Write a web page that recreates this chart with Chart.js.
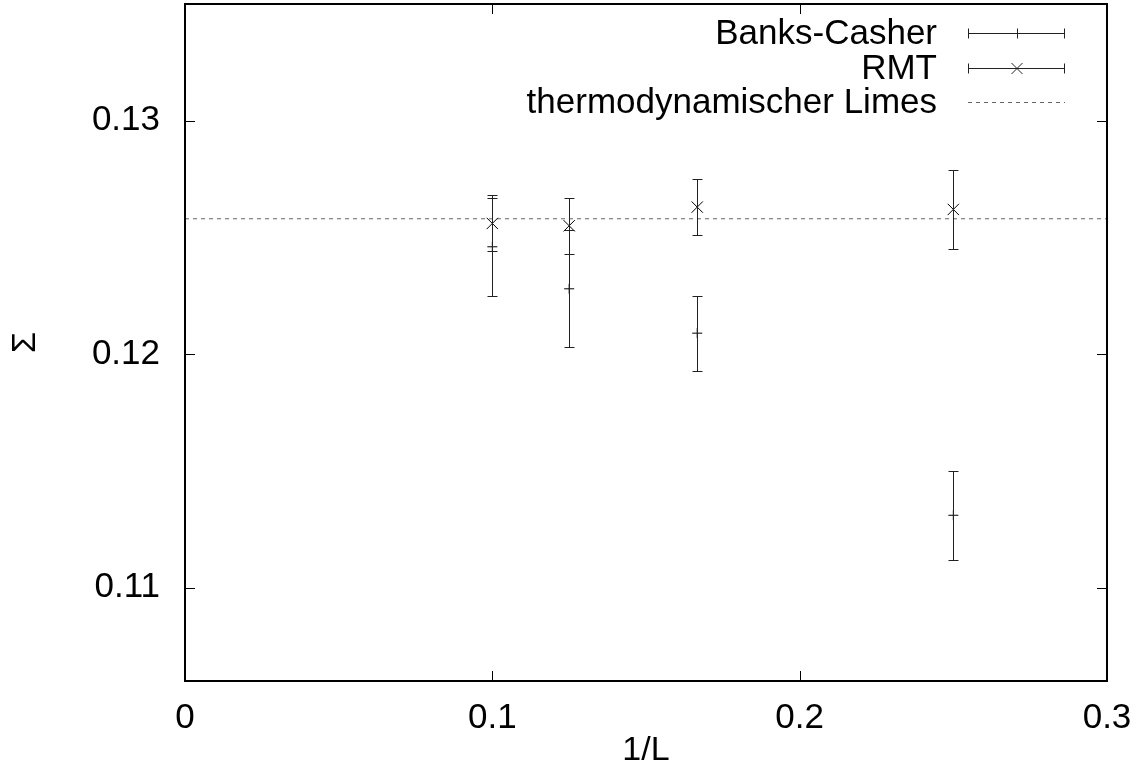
<!DOCTYPE html>
<html>
<head>
<meta charset="utf-8">
<script src="https://cdn.jsdelivr.net/npm/chart.js@4"></script>
<style>
  html, body { margin: 0; padding: 0; background: #fff; }
  canvas { display: block; }
</style>
</head>
<body>
<canvas id="sigma-chart" width="1138" height="771"></canvas>
<script>
// Finite-volume estimates of Sigma against 1/L
const invL = [0.1, 0.125, 1 / 6, 0.25];
const banksCasher = [0.1246, 0.1228, 0.1209, 0.1131];
const banksCasherErr = [0.0021, 0.0025, 0.0016, 0.0019];
const rmt = [0.1256, 0.1255, 0.1263, 0.1262];
const rmtErr = [0.0012, 0.0012, 0.0012, 0.0017];
const thermoLimit = 0.1258;
const thermoRange = [0, 0.3];
const xTicks = [0, 0.1, 0.2, 0.3];
const yTicks = [0.11, 0.12, 0.13];
const seriesLabels = ['Banks-Casher', 'RMT', 'thermodynamischer Limes'];

const FONT = '"Liberation Sans", Arial, Helvetica, sans-serif';

// vertical error bars with end caps
const errorBars = {
    id: 'errorBars',
    afterDatasetsDraw(chart) {
        const { ctx, scales: { x, y } } = chart;
        ctx.save();
        ctx.strokeStyle = '#222';
        ctx.lineWidth = 1;
        chart.data.datasets.forEach(ds => {
            if (!ds.errors) return;
            ds.data.forEach((p, i) => {
                const px = Math.round(x.getPixelForValue(p.x)) + 0.5;
                const top = Math.round(y.getPixelForValue(p.y + ds.errors[i])) + 0.5;
                const bot = Math.round(y.getPixelForValue(p.y - ds.errors[i])) + 0.5;
                ctx.beginPath();
                ctx.moveTo(px, top);
                ctx.lineTo(px, bot);
                ctx.moveTo(px - 5, top);
                ctx.lineTo(px + 5, top);
                ctx.moveTo(px - 5, bot);
                ctx.lineTo(px + 5, bot);
                ctx.stroke();
            });
        });
        ctx.restore();
    }
};

// box around the plot with inward ticks on all four sides
const frame = {
    id: 'frame',
    afterDraw(chart) {
        const { ctx, chartArea: a, scales: { x, y } } = chart;
        ctx.save();
        ctx.strokeStyle = '#000';
        ctx.lineWidth = 2;
        ctx.strokeRect(a.left, a.top, a.right - a.left, a.bottom - a.top);
        ctx.lineWidth = 1;
        ctx.beginPath();
        xTicks.forEach(v => {
            const px = Math.round(x.getPixelForValue(v)) + 0.5;
            ctx.moveTo(px, a.bottom); ctx.lineTo(px, a.bottom - 10);
            ctx.moveTo(px, a.top); ctx.lineTo(px, a.top + 10);
        });
        yTicks.forEach(v => {
            const py = Math.round(y.getPixelForValue(v)) + 0.5;
            ctx.moveTo(a.left, py); ctx.lineTo(a.left + 10, py);
            ctx.moveTo(a.right, py); ctx.lineTo(a.right - 10, py);
        });
        ctx.stroke();
        ctx.restore();
    }
};

// key in the upper right corner, text right-aligned before the sample
const key = {
    id: 'key',
    afterDraw(chart) {
        const { ctx } = chart;
        const textRight = 937, x0 = 968, x1 = 1065, xm = 1017;
        const rows = [33, 68, 102];
        ctx.save();
        ctx.font = '35px ' + FONT;
        ctx.fillStyle = '#000';
        ctx.textAlign = 'right';
        ctx.textBaseline = 'middle';
        seriesLabels.forEach((t, i) => ctx.fillText(t, textRight, rows[i] + 1));
        ctx.strokeStyle = '#222';
        ctx.lineWidth = 1;
        for (let i = 0; i < 2; i++) {
            const ry = rows[i] + 0.5;
            ctx.beginPath();
            ctx.moveTo(x0, ry); ctx.lineTo(x1, ry);
            ctx.moveTo(x0 + 0.5, ry - 5); ctx.lineTo(x0 + 0.5, ry + 5);
            ctx.moveTo(x1 - 0.5, ry - 5); ctx.lineTo(x1 - 0.5, ry + 5);
            if (i === 0) {
                ctx.moveTo(xm + 0.5, ry - 5); ctx.lineTo(xm + 0.5, ry + 5);
            } else {
                ctx.moveTo(xm - 5.5, ry - 5.5); ctx.lineTo(xm + 5.5, ry + 5.5);
                ctx.moveTo(xm - 5.5, ry + 5.5); ctx.lineTo(xm + 5.5, ry - 5.5);
            }
            ctx.stroke();
        }
        ctx.strokeStyle = '#666';
        ctx.setLineDash([4, 4]);
        ctx.beginPath();
        ctx.moveTo(x0, rows[2] + 0.5); ctx.lineTo(x1, rows[2] + 0.5);
        ctx.stroke();
        ctx.restore();
    }
};

new Chart(document.getElementById('sigma-chart').getContext('2d'), {
    type: 'scatter',
    data: {
        datasets: [
            {
                label: seriesLabels[0],
                data: invL.map((v, i) => ({ x: v, y: banksCasher[i] })),
                errors: banksCasherErr,
                pointStyle: 'cross',
                pointRadius: 5,
                borderColor: '#000',
                borderWidth: 1
            },
            {
                label: seriesLabels[1],
                data: invL.map((v, i) => ({ x: v, y: rmt[i] })),
                errors: rmtErr,
                pointStyle: 'crossRot',
                pointRadius: 8,
                borderColor: '#000',
                borderWidth: 1
            },
            {
                label: seriesLabels[2],
                type: 'line',
                data: thermoRange.map(v => ({ x: v, y: thermoLimit })),
                borderColor: '#666',
                borderWidth: 1,
                borderDash: [4, 4],
                pointRadius: 0,
                fill: false
            }
        ]
    },
    options: {
        responsive: false,
        animation: false,
        layout: { autoPadding: false, padding: { top: 4, right: 31, left: 0, bottom: 0 } },
        plugins: {
            legend: { display: false },
            tooltip: { enabled: false }
        },
        scales: {
            x: {
                type: 'linear',
                min: 0,
                max: 0.3,
                afterBuildTicks: s => { s.ticks = xTicks.map(v => ({ value: v })); },
                afterFit: s => {
                    s.height = 90;
                    s.paddingLeft = 0;
                    s.paddingRight = 0;
                },
                grid: { display: false, drawTicks: false },
                border: { display: false },
                ticks: {
                    padding: 16,
                    color: '#000',
                    font: { family: FONT, size: 35 },
                    callback: v => String(v)
                },
                title: {
                    display: true,
                    text: '1/L',
                    color: '#000',
                    font: { family: FONT, size: 34 },
                    padding: { top: 0, bottom: 0 }
                }
            },
            y: {
                min: 0.106,
                max: 0.135,
                afterBuildTicks: s => { s.ticks = yTicks.map(v => ({ value: v })); },
                afterFit: s => {
                    s.width = 185;
                    s.paddingTop = 0;
                    s.paddingBottom = 0;
                },
                grid: { display: false, drawTicks: false },
                border: { display: false },
                ticks: {
                    padding: 25,
                    color: '#000',
                    font: { family: FONT, size: 35 },
                    callback: v => String(v)
                },
                title: {
                    display: true,
                    text: 'Σ',
                    color: '#000',
                    font: { family: FONT, size: 34 },
                    padding: { top: 5, bottom: 0 }
                }
            }
        }
    },
    plugins: [errorBars, frame, key]
});
</script>
</body>
</html>
